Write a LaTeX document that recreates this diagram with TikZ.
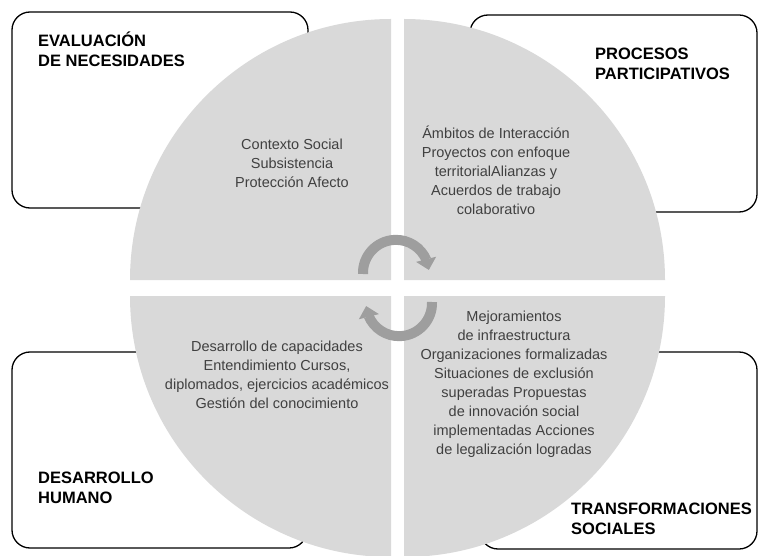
\documentclass[tikz,border=0pt]{standalone}
\usepackage{fontspec}
\setmainfont{Liberation Sans}
\usetikzlibrary{arrows.meta,bending}
\definecolor{quadgray}{HTML}{D9D9D9}
\definecolor{arrowgray}{HTML}{9E9E9E}
\definecolor{textgray}{HTML}{404040}
\begin{document}
\begin{tikzpicture}[x=1pt,y=1pt,
    box/.style={draw=black, line width=1.3pt, rounded corners=18pt, fill=white},
    quad/.style={fill=quadgray},
    title/.style={anchor=north west, inner sep=0pt, align=left, font=\fontsize{16.5}{20}\selectfont\bfseries},
    body/.style={inner sep=0pt, align=center, text=textgray, font=\fontsize{14.5}{19}\selectfont},
    cycle/.style={draw=arrowgray, line width=10pt, -{Triangle[width=20pt,length=11pt,flex]}}]
  \useasboundingbox (0,0) rectangle (760,555);
  % frames behind the circle
  \draw[box] (12,347) rectangle (308,543);
  \draw[box] (470,343) rectangle (757,540);
  \draw[box] (12,7) rectangle (307,203);
  \draw[box] (480,6) rectangle (757,203);
  % four quarters
  \fill[quad] (391,275) -- ++(90:261) arc[start angle=90, end angle=180, radius=261] -- cycle;
  \fill[quad] (404,275) -- ++(0:261) arc[start angle=0, end angle=90, radius=261] -- cycle;
  \fill[quad] (391,259) -- ++(180:261) arc[start angle=180, end angle=270, radius=261] -- cycle;
  \fill[quad] (404,259) -- ++(270:261) arc[start angle=270, end angle=360, radius=261] -- cycle;
  % titles
  \node[title] (evaluacion) at (38,523.5) {EVALUACIÓN\\DE NECESIDADES};
  \node[title] (procesos) at (595,507) {PROCESOS\\PARTICIPATIVOS};
  \node[title] (desarrollo) at (38,83) {DESARROLLO\\HUMANO};
  \node[title] (transform) at (571,52) {TRANSFORMACIONES\\SOCIALES};
  % contents
  \node[body] (necesidades) at (292,392) {Contexto Social\\Subsistencia\\Protección Afecto};
  \node[body] (participa) at (496,385) {Ámbitos de Interacción\\Proyectos con enfoque\\territorialAlianzas y\\Acuerdos de trabajo\\colaborativo};
  \node[body] (humano) at (277,180) {Desarrollo de capacidades\\Entendimiento Cursos,\\diplomados, ejercicios académicos\\Gestión del conocimiento};
  \node[body] (sociales) at (514,171) {Mejoramientos\\de infraestructura\\Organizaciones formalizadas\\Situaciones de exclusión\\superadas Propuestas\\de innovación social\\implementadas Acciones\\de legalización logradas};
  % cycle arrows
  \coordinate (up) at (363,281);
  \coordinate (down) at (432,253);
  \draw[cycle] (up) arc[start angle=182, end angle=5, radius=33];
  \draw[cycle] (down) arc[start angle=2, end angle=-175, radius=33];
\end{tikzpicture}
\end{document}
